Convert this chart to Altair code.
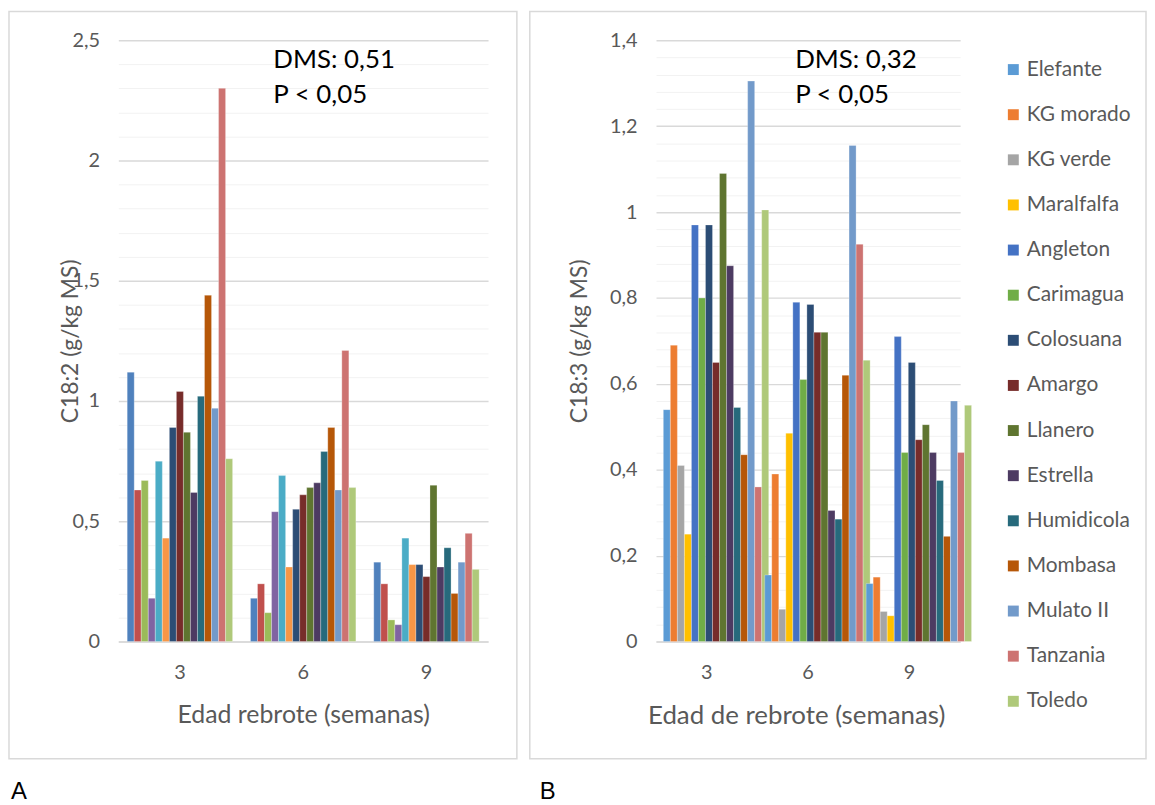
import altair as alt
import pandas as pd

especies = ["Elefante", "KG morado", "KG verde", "Maralfalfa", "Angleton", "Carimagua",
            "Colosuana", "Amargo", "Llanero", "Estrella", "Humidicola", "Mombasa",
            "Mulato II", "Tanzania", "Toledo"]
edades = ["3", "6", "9"]

# Panel A: C18:2 (g/kg MS)
c182_sem3 = [1.12, 0.63, 0.67, 0.18, 0.75, 0.43, 0.89, 1.04, 0.87, 0.62, 1.02, 1.44, 0.97, 2.30, 0.76]
c182_sem6 = [0.18, 0.24, 0.12, 0.54, 0.69, 0.31, 0.55, 0.61, 0.64, 0.66, 0.79, 0.89, 0.63, 1.21, 0.64]
c182_sem9 = [0.33, 0.24, 0.09, 0.07, 0.43, 0.32, 0.32, 0.27, 0.65, 0.31, 0.39, 0.20, 0.33, 0.45, 0.30]

# Panel B: C18:3 (g/kg MS)
c183_sem3 = [0.54, 0.69, 0.41, 0.25, 0.97, 0.80, 0.97, 0.65, 1.09, 0.875, 0.545, 0.435, 1.305, 0.36, 1.005]
c183_sem6 = [0.155, 0.39, 0.075, 0.485, 0.79, 0.61, 0.785, 0.72, 0.72, 0.305, 0.285, 0.62, 1.155, 0.925, 0.655]
c183_sem9 = [0.135, 0.15, 0.07, 0.06, 0.71, 0.44, 0.65, 0.47, 0.505, 0.44, 0.375, 0.245, 0.56, 0.44, 0.55]

colores_A = ["#4F81BD", "#C0504D", "#9BBB59", "#8064A2", "#4BACC6", "#F79646", "#2C4D75",
             "#772C2A", "#5F7530", "#4D3B62", "#276A7C", "#B65708", "#729ACA", "#CD7371", "#AFC97A"]
colores_B = ["#5B9BD5", "#ED7D31", "#A5A5A5", "#FFC000", "#4472C4", "#70AD47", "#2C4D75",
             "#772C2A", "#5F7530", "#4D3B62", "#276A7C", "#B65708", "#729ACA", "#CD7371", "#AFC97A"]

FONT = "Lato"
GRAY = "#595959"


def long_df(series):
    rows = []
    for edad, vals in zip(edades, series):
        for esp, v in zip(especies, vals):
            rows.append({"edad": edad, "especie": esp, "valor": v})
    return pd.DataFrame(rows)


def panel(df, colores, ymax, minor, major, ytitle, xtitle, dms, letra,
          pw, ph, frame, ytitle_x, xtitle_x, xtitle_size, dms_x, letra_x, legend):
    n = int(round(ymax / minor))
    ticks = [round(i * minor, 4) for i in range(n + 1)]
    is_major = f"abs(datum.value/{major} - round(datum.value/{major})) < 1e-6"
    yaxis = alt.Axis(
        values=ticks, ticks=False, domain=False, grid=True,
        gridColor={"condition": {"test": is_major, "value": "#d9d9d9"}, "value": "#f2f2f2"},
        gridWidth={"condition": {"test": is_major, "value": 1.4}, "value": 1},
        labelExpr=f"{is_major} ? replace(format(datum.value, '~g'), '.', ',') : ''",
        labelFont=FONT, labelFontSize=20, labelColor=GRAY, labelPadding=19,
        title=ytitle, titleFont=FONT, titleFontSize=23, titleColor=GRAY,
        titleFontWeight="normal", titleX=ytitle_x, titleBaseline="middle",
    )
    xaxis_kw = dict(
        ticks=False, labelAngle=0, domainColor="#d9d9d9", domainWidth=1.5,
        labelFont=FONT, labelFontSize=20, labelColor=GRAY, labelPadding=21,
        title=xtitle, titleFont=FONT, titleFontSize=xtitle_size, titleColor=GRAY,
        titleFontWeight="normal", titlePadding=20,
    )
    if xtitle_x is not None:
        xaxis_kw["titleX"] = xtitle_x
    color_kw = dict(scale=alt.Scale(domain=especies, range=colores))
    if legend:
        color_kw["legend"] = alt.Legend(
            orient="none", legendX=349, legendY=19, title=None, padding=0,
            labelFont=FONT, labelFontSize=21, labelColor=GRAY, labelOffset=3,
            symbolType="square", symbolSize=121, symbolStrokeWidth=0,
            rowPadding=23.4, direction="vertical",
        )
    else:
        color_kw["legend"] = None

    bars = alt.Chart(df).mark_bar(stroke="white", strokeWidth=0.4, strokeOpacity=0.7).encode(
        x=alt.X("edad:N", sort=edades, axis=alt.Axis(**xaxis_kw),
                scale=alt.Scale(paddingInner=0.145, paddingOuter=0.072)),
        xOffset=alt.XOffset("especie:N", sort=especies,
                            scale=alt.Scale(paddingInner=0, paddingOuter=0)),
        y=alt.Y("valor:Q", axis=yaxis, scale=alt.Scale(domain=[0, ymax], nice=False)),
        color=alt.Color("especie:N", sort=especies, **color_kw),
    )

    one = pd.DataFrame({"k": [0]})
    box = alt.Chart(one).mark_rect(fill="transparent", stroke="#d9d9d9", strokeWidth=1.5).encode(
        x=alt.value(frame[0]), x2=alt.value(frame[1]),
        y=alt.value(frame[2]), y2=alt.value(frame[3]),
    )
    t1 = alt.Chart(pd.DataFrame({"t": [dms[0]]})).mark_text(
        align="left", baseline="middle", font=FONT, fontSize=26, color="#000000"
    ).encode(text="t:N", x=alt.value(dms_x), y=alt.value(20))
    t2 = alt.Chart(pd.DataFrame({"t": [dms[1]]})).mark_text(
        align="left", baseline="middle", font=FONT, fontSize=26, color="#000000"
    ).encode(text="t:N", x=alt.value(dms_x), y=alt.value(55))
    lt = alt.Chart(pd.DataFrame({"t": [letra]})).mark_text(
        align="left", baseline="middle", font="Liberation Sans", fontSize=24, color="#000000"
    ).encode(text="t:N", x=alt.value(letra_x), y=alt.value(756))

    return alt.layer(box, bars, t1, t2, lt).properties(width=pw, height=ph)


chart_A = panel(long_df([c182_sem3, c182_sem6, c182_sem9]), colores_A, 2.5, 0.1, 0.5,
                "C18:2 (g/kg MS)", "Edad rebrote (semanas)", ["DMS: 0,51", "P < 0,05"], "A",
                372, 605, (-110, 401, -29, 723), -48, None, 25, 156, -108, False)
chart_B = panel(long_df([c183_sem3, c183_sem6, c183_sem9]), colores_B, 1.4, 0.04, 0.2,
                "C18:3 (g/kg MS)", "Edad de rebrote (semanas)", ["DMS: 0,32", "P < 0,05"], "B",
                306, 605, (-127, 493, -29, 723), -77, 141, 26, 140, -117, True)

chart = alt.HConcatChart(hconcat=[chart_A, chart_B], spacing=11, padding=0).resolve_scale(
    x="independent", y="independent", color="independent"
).resolve_legend(color="independent").configure_view(stroke=None)

chart.save("out.html", embed_options={"renderer": "svg", "actions": False})
